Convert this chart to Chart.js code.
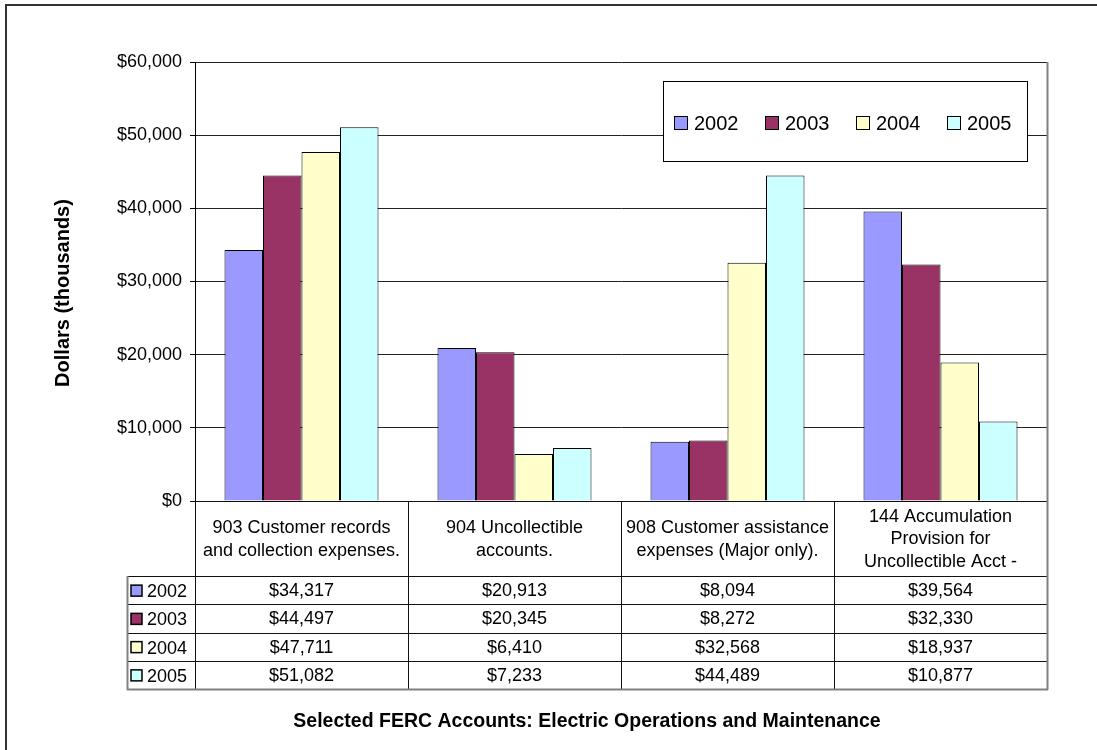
<!DOCTYPE html>
<html>
<head>
<meta charset="utf-8">
<script src="https://cdn.jsdelivr.net/npm/chart.js@4/dist/chart.umd.min.js"></script>
<style>
  html, body { margin: 0; padding: 0; background: #fff; }
  #wrap { width: 1097px; height: 750px; position: relative; }
  canvas { display: block; }
</style>
</head>
<body>
<div id="wrap"><canvas id="c" width="1097" height="750"></canvas></div>
<script>
// ---- Data ----
const categories = [
  ["903 Customer records", "and collection expenses."],
  ["904 Uncollectible", "accounts."],
  ["908 Customer assistance", "expenses (Major only)."],
  ["144 Accumulation", "Provision for", "Uncollectible Acct -"]
];
const seriesNames = ["2002", "2003", "2004", "2005"];
const values2002 = [34317, 20913, 8094, 39564];
const values2003 = [44497, 20345, 8272, 32330];
const values2004 = [47711, 6410, 32568, 18937];
const values2005 = [51082, 7233, 44489, 10877];
const seriesColors = ["#9999FF", "#993366", "#FFFFCC", "#CCFFFF"];
const yTicks = [0, 10000, 20000, 30000, 40000, 50000, 60000];
const yTitle = "Dollars (thousands)";
const xTitle = "Selected FERC Accounts: Electric Operations and Maintenance";

const FONT = "'Liberation Sans', Arial, Helvetica, sans-serif";
const fmt = v => "$" + v.toLocaleString("en-US");
const allValues = [values2002, values2003, values2004, values2005];

// ---- Layout constants (not data) ----
const HEADER_H = 75, ROW_H = 28.25, LEG_COL_L = 127;

const decorPlugin = {
  id: "decor",
  afterDraw(chart) {
    const ctx = chart.ctx, a = chart.chartArea, xs = chart.scales.x, ys = chart.scales.y;
    const n = categories.length;
    const cw = (a.right - a.left) / n;
    const tTop = ys.getPixelForValue(0);
    const rowsTop = tTop + HEADER_H;
    const tBot = rowsTop + ROW_H * seriesNames.length;
    ctx.save();

    // outer chart border (top/left visible)
    ctx.strokeStyle = "#333";
    ctx.lineWidth = 2;
    ctx.strokeRect(6, 5, 1300, 1300);

    // table inner lines
    ctx.strokeStyle = "#111";
    ctx.lineWidth = 1;
    ctx.beginPath();
    for (let i = 0; i < n; i++) {
      const bx = Math.round(xs.getPixelForValue(i) - cw / 2) + 0.5;
      ctx.moveTo(bx, tTop); ctx.lineTo(bx, tBot);
    }
    for (let r = 0; r < seriesNames.length; r++) {
      const yy = Math.round(rowsTop + r * ROW_H) + 0.5;
      ctx.moveTo(LEG_COL_L, yy); ctx.lineTo(a.right, yy);
    }
    ctx.moveTo(a.left - 5, Math.round(tTop) + 0.5); ctx.lineTo(a.right, Math.round(tTop) + 0.5);
    ctx.stroke();

    // outer gray borders
    ctx.strokeStyle = "#808080";
    ctx.lineWidth = 2;
    ctx.beginPath();
    ctx.moveTo(a.right + 0.5, a.top); ctx.lineTo(a.right + 0.5, tBot + 1);
    ctx.moveTo(LEG_COL_L, tBot + 0.5); ctx.lineTo(a.right + 1, tBot + 0.5);
    ctx.moveTo(LEG_COL_L + 0.5, rowsTop); ctx.lineTo(LEG_COL_L + 0.5, tBot + 1);
    ctx.stroke();

    // header text
    ctx.fillStyle = "#000";
    ctx.textAlign = "center";
    ctx.textBaseline = "middle";
    ctx.font = "18px " + FONT;
    const LH = 22.5;
    categories.forEach((lines, i) => {
      const cx = xs.getPixelForValue(i);
      const cy = tTop + HEADER_H / 2;
      lines.forEach((ln, k) => {
        ctx.fillText(ln, cx, cy + (k - (lines.length - 1) / 2) * LH + 1);
      });
    });

    // values + table legend keys
    allValues.forEach((vals, r) => {
      const cy = rowsTop + r * ROW_H + ROW_H / 2 + 1;
      vals.forEach((v, i) => {
        ctx.fillText(fmt(v), xs.getPixelForValue(i), cy);
      });
      ctx.fillStyle = seriesColors[r];
      ctx.fillRect(LEG_COL_L + 4, cy - 6, 11, 11);
      ctx.strokeStyle = "#000";
      ctx.lineWidth = 1.5;
      ctx.strokeRect(LEG_COL_L + 4, cy - 6, 11, 11);
      ctx.fillStyle = "#000";
      ctx.textAlign = "left";
      ctx.fillText(seriesNames[r], LEG_COL_L + 20, cy + 1);
      ctx.textAlign = "center";
    });

    // legend box
    const lx = a.right - 20, lt = a.top + 19, lw = 364, lh = 80;
    ctx.fillStyle = "#fff";
    ctx.fillRect(lx - lw, lt, lw, lh);
    ctx.strokeStyle = "#000";
    ctx.lineWidth = 1;
    ctx.strokeRect(lx - lw + 0.5, lt + 0.5, lw, lh);
    ctx.font = "20px " + FONT;
    ctx.textAlign = "left";
    seriesNames.forEach((s, i) => {
      const sx = lx - lw + 11 + i * 91;
      const cy = lt + lh / 2 + 2;
      ctx.fillStyle = seriesColors[i];
      ctx.fillRect(sx, cy - 7, 13, 13);
      ctx.strokeStyle = "#000";
      ctx.lineWidth = 1;
      ctx.strokeRect(sx + 0.5, cy - 6.5, 13, 13);
      ctx.fillStyle = "#000";
      ctx.fillText(s, sx + 20, cy + 1);
    });

    // y title
    ctx.save();
    ctx.font = "bold 20px " + FONT;
    ctx.textAlign = "center";
    ctx.textBaseline = "middle";
    ctx.translate(63, 293);
    ctx.rotate(-Math.PI / 2);
    ctx.fillText(yTitle, 0, 0);
    ctx.restore();

    // x title
    ctx.font = "bold 19.5px " + FONT;
    ctx.textAlign = "center";
    ctx.textBaseline = "middle";
    ctx.fillText(xTitle, (LEG_COL_L + a.right) / 2, 722);

    ctx.restore();
  }
};

new Chart(document.getElementById("c"), {
  type: "bar",
  data: {
    labels: categories,
    datasets: seriesNames.map((s, i) => ({
      label: s,
      data: allValues[i],
      backgroundColor: seriesColors[i],
      borderColor: "#000",
      borderWidth: 1,
      categoryPercentage: 0.723,
      barPercentage: 1.0
    }))
  },
  options: {
    responsive: false,
    devicePixelRatio: 1,
    animation: false,
    layout: { padding: { left: 0, top: 62, right: 50, bottom: 249 } },
    plugins: { legend: { display: false }, tooltip: { enabled: false } },
    scales: {
      x: { display: false },
      y: {
        min: 0, max: 60000,
        afterBuildTicks: sc => { sc.ticks = yTicks.map(v => ({ value: v })); },
        afterFit: sc => { sc.width = 195; },
        ticks: {
          color: "#000",
          font: { family: FONT, size: 18 },
          padding: 8,
          callback: v => fmt(v)
        },
        grid: { color: "#222", lineWidth: 1, tickLength: 5, tickColor: "#000" },
        border: { display: true, color: "#000", width: 1 }
      }
    }
  },
  plugins: [decorPlugin]
});
</script>
</body>
</html>
